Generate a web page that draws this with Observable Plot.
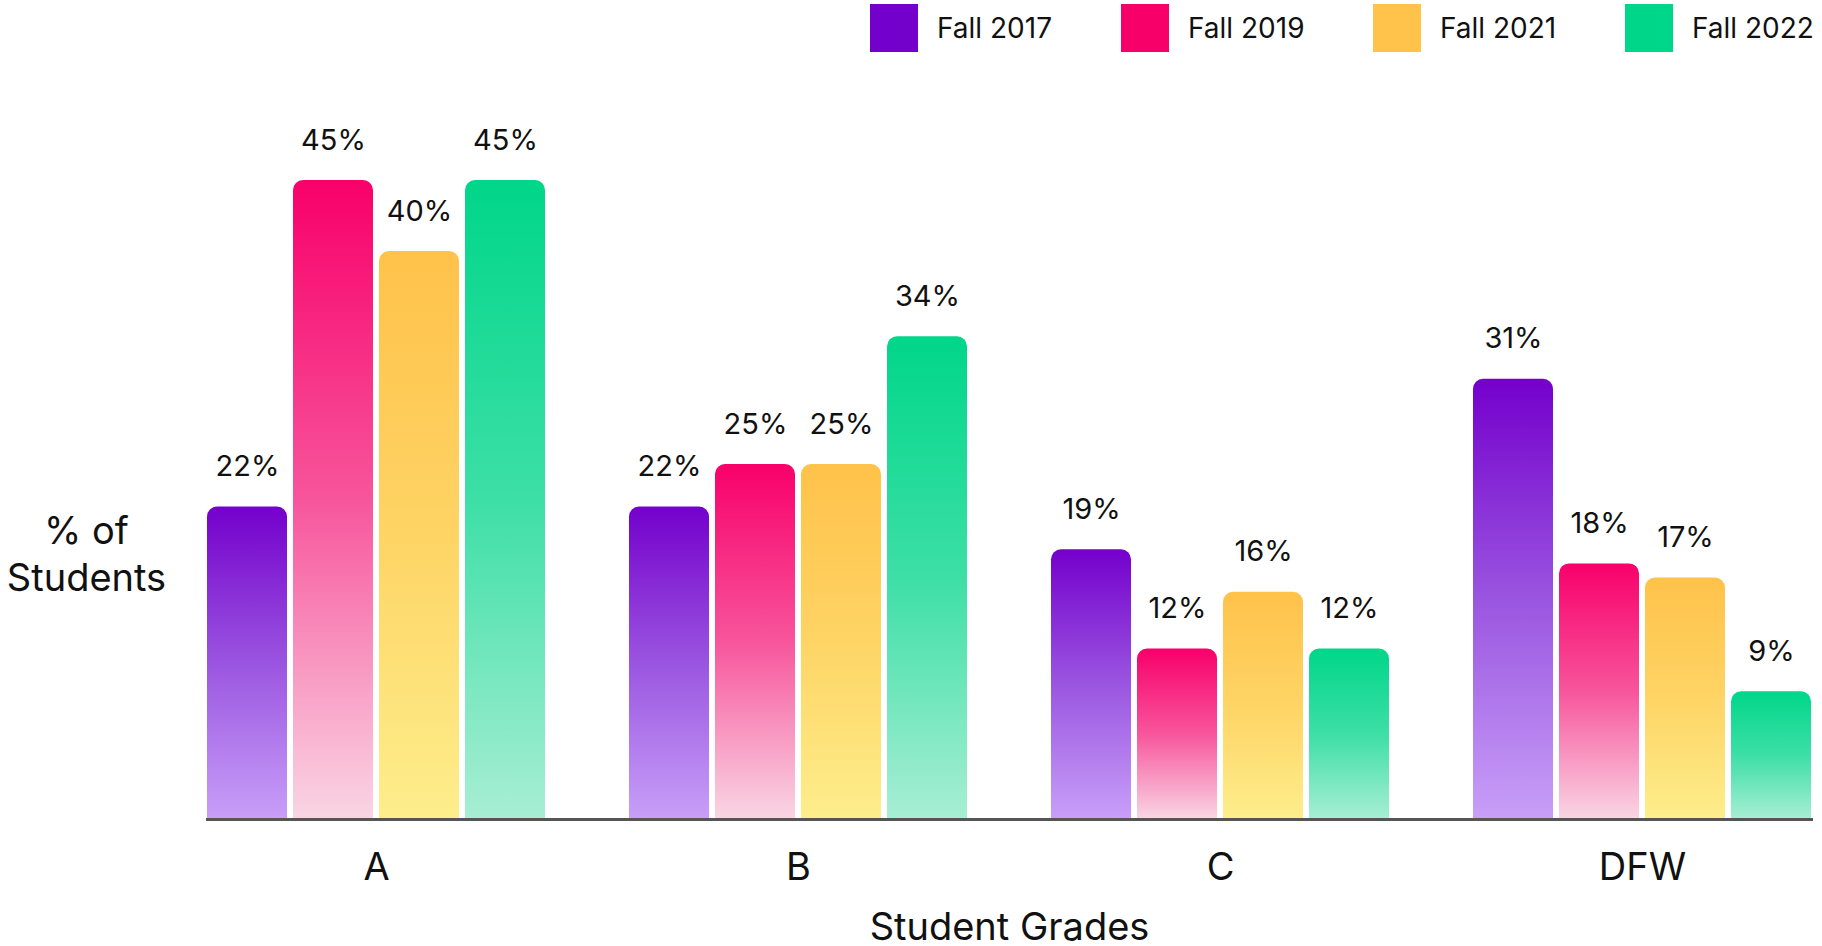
<!DOCTYPE html>
<html>
<head>
<meta charset="utf-8">
<script src="https://cdn.jsdelivr.net/npm/d3@7"></script>
<script src="https://cdn.jsdelivr.net/npm/@observablehq/plot@0.6"></script>
<style>
  html, body { margin: 0; padding: 0; background: #fff; }
  body { width: 1822px; height: 946px; overflow: hidden; font-family: Inter, "Noto Sans", sans-serif; color: #111; }
  #legend { position: relative; height: 60px; }
  .item { position: absolute; top: 4px; display: flex; align-items: center; height: 48px; white-space: nowrap; }
  .sw { width: 48px; height: 48px; margin-right: 19px; }
  .lab { font-size: 28px; color: #111; }
</style>
</head>
<body>
<div id="legend"></div>
<div id="chart"></div>
<script>
const grades = ["A", "B", "C", "DFW"];
const series = ["Fall 2017", "Fall 2019", "Fall 2021", "Fall 2022"];
const fall2017 = [22, 22, 19, 31];
const fall2019 = [45, 25, 12, 18];
const fall2021 = [40, 25, 16, 17];
const fall2022 = [45, 34, 12, 9];
const topColors = ["#7400cc", "#f8006a", "#ffc24a", "#00d68a"];
const midColors = ["#9a55e0", "#f7559c", "#fed465", "#3ddfa6"];
const bottomColors = ["#c89ff8", "#f9d6e4", "#fdee8c", "#a8eed4"];
const legendX = [870, 1121, 1373, 1625];

const valuesBySeries = [fall2017, fall2019, fall2021, fall2022];
const data = [];
grades.forEach((g, i) => series.forEach((s, j) => data.push({grade: g, series: s, value: valuesBySeries[j][i]})));

// legend
const legend = document.getElementById("legend");
series.forEach((s, j) => {
  const it = document.createElement("div");
  it.className = "item";
  it.style.left = legendX[j] + "px";
  it.innerHTML = `<div class="sw" style="background:${topColors[j]}"></div><span class="lab">${s}</span>`;
  legend.appendChild(it);
});

const gradIds = series.map((s, j) => `grad${j}`);

const chart = Plot.plot({
  width: 1822,
  height: 886,
  marginLeft: 205,
  marginRight: 10,
  marginTop: 120,
  marginBottom: 127,
  style: {fontFamily: "Inter, 'Noto Sans', sans-serif", fontSize: "38px", color: "#111", background: "#fff", overflow: "visible"},
  fx: {domain: grades, paddingInner: 0.2, paddingOuter: 0},
  x: {domain: series, paddingInner: 0.07, paddingOuter: 0, axis: null},
  y: {domain: [0, 45], axis: null},
  color: {domain: series, range: gradIds.map(id => `url(#${id})`)},
  marks: [
    Plot.barY(data, {fx: "grade", x: "series", y: "value", fill: "series", ry1: 10}),
    Plot.text(data, {fx: "grade", x: "series", y: "value", text: d => d.value + "%", lineAnchor: "bottom", dy: -31, fontSize: 29, fill: "#111"}),
    Plot.frame({anchor: "bottom", facet: "super", stroke: "#555", strokeWidth: 3}),
    Plot.axisFx({anchor: "bottom", tickSize: 0, tickPadding: 34, fontSize: 38, fill: "#111", label: "Student Grades", labelAnchor: "center", labelOffset: 120}),
    Plot.text(["% of\nStudents"], {facet: "super", frameAnchor: "left", dx: -121, dy: 52, lineHeight: 1.24, fontSize: 38, textAnchor: "middle", fill: "#111"})
  ]
});

// gradients
const defs = d3.select(chart).insert("defs", ":first-child");
series.forEach((s, j) => {
  const lg = defs.append("linearGradient").attr("id", gradIds[j]).attr("x1", 0).attr("y1", 0).attr("x2", 0).attr("y2", 1);
  lg.append("stop").attr("offset", "0%").attr("stop-color", topColors[j]);
  lg.append("stop").attr("offset", "50%").attr("stop-color", midColors[j]);
  lg.append("stop").attr("offset", "100%").attr("stop-color", bottomColors[j]);
});

document.getElementById("chart").appendChild(chart);
</script>
</body>
</html>
